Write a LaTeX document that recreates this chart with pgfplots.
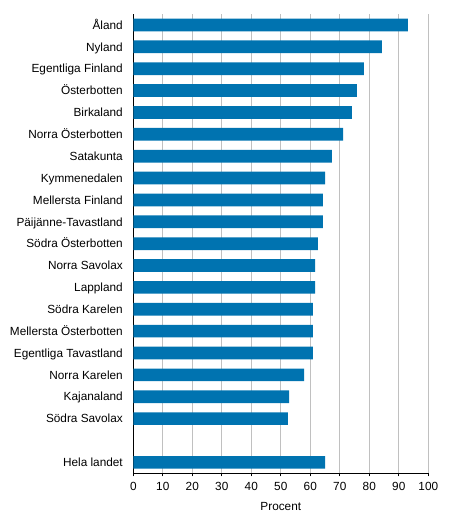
\documentclass[border=0pt]{standalone}
\usepackage{fontspec}
\setmainfont{Liberation Sans}
\usepackage{pgfplots}
\pgfplotsset{compat=1.18}
\definecolor{barblue}{HTML}{0073B0}
\definecolor{gridgray}{HTML}{C0C0C0}
\newcommand{\chartfont}{\fontsize{11.8bp}{14bp}\selectfont}

\begin{document}
\begin{tikzpicture}
\begin{axis}[
	at={(0,0)}, anchor=south west,
	scale only axis,
	width=295bp, height=459.3bp,
	xbar, bar width=12.7bp,
	xmin=0, xmax=100,
	ymin=-0.5, ymax=20.5,
	y dir=reverse,
	xtick={0,10,...,100},
	ytick={0,...,18,20},
	yticklabels={Åland, Nyland, Egentliga Finland, Österbotten, Birkaland,
		Norra Österbotten, Satakunta, Kymmenedalen, Mellersta Finland,
		Päijänne-Tavastland, Södra Österbotten, Norra Savolax, Lappland,
		Södra Karelen, Mellersta Österbotten, Egentliga Tavastland,
		Norra Karelen, Kajanaland, Södra Savolax, Hela landet},
	axis x line*=bottom, axis y line*=left,
	axis line style={-, black, line width=0.8bp},
	xmajorgrids,
	major grid style={gridgray, line width=0.8bp},
	tick align=outside,
	major tick length=3bp,
	xtick style={black, line width=0.8bp},
	ytick style={draw=none},
	/pgf/number format/assume math mode=true,
	tick label style={font=\chartfont},
	yticklabel style={xshift=-4bp, text height=8.45bp, text depth=0bp},
	xticklabel style={yshift=-2.5bp},
	xlabel={Procent},
	xlabel style={font=\chartfont, yshift=-5bp},
]
\addplot[fill=barblue, draw=none] coordinates {
	(93.1,0) (84.3,1) (78.2,2) (75.8,3) (74.1,4)
	(71.1,5) (67.3,6) (65.0,7) (64.3,8) (64.3,9)
	(62.6,10) (61.6,11) (61.6,12) (60.9,13) (60.9,14)
	(60.9,15) (57.9,16) (52.8,17) (52.4,18) (65.0,20)
};
\end{axis}
\pgfresetboundingbox
\useasboundingbox (-133.3bp,-55.7bp) rectangle (320.7bp,473.3bp);
\end{tikzpicture}
\end{document}
